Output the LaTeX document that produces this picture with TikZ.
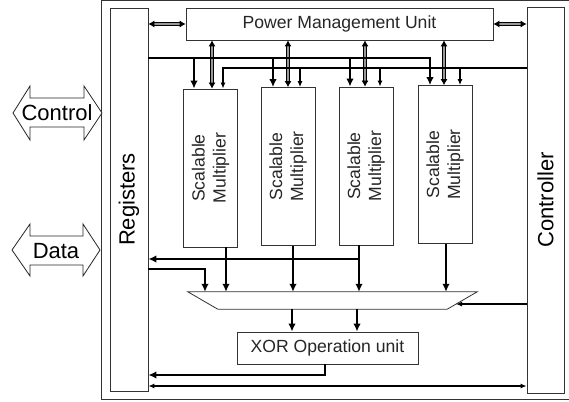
\documentclass[tikz,border=0pt]{standalone}
\usepackage{fontspec}
\setmainfont{Liberation Sans}
\usetikzlibrary{arrows.meta,calc}
\begin{document}
\begin{tikzpicture}[x=1pt,y=-1pt,
  box/.style={draw=black!80, line width=0.8pt, inner sep=0pt},
  fs/.style={font=\fontsize{17.6}{21}\selectfont, text=black!85},
  big/.style={font=\fontsize{22}{24}\selectfont, text=black},
  thk/.style={line width=2.6pt, -{Latex[length=8pt,width=7.5pt]}},
  thn/.style={line width=1.2pt, -{Latex[length=6pt,width=5pt]}},
  thnd/.style={line width=1.2pt, {Latex[length=6pt,width=5pt]}-{Latex[length=6pt,width=5pt]}},
  dbl/.style={line width=0.8pt, double=black!40, double distance=1.8pt, {Latex[length=6pt,width=7pt]}-{Latex[length=6pt,width=7pt]}},
  bigarrow/.style={draw=black!85, line width=0.8pt, fill=white},
  mult/.style={box, minimum width=54pt, minimum height=158pt}
]
\clip (0,0) rectangle (569,401);
\fill[white] (0,0) rectangle (569,401);

% outer frame
\draw[line width=1pt, black!80] (580,1) -- (101,1) -- (101,399) -- (580,399);

% main blocks
\node[box, minimum width=38pt, minimum height=383pt] (reg) at (129,199.5) {};
\node[big, rotate=90] (regt) at (reg.center) {Registers};
\node[box, minimum width=37pt, minimum height=386pt] (ctrl) at (545.5,200) {};
\node[big, rotate=90] (ctrlt) at (ctrl.center) {Controller};
\node[box, minimum width=307pt, minimum height=32pt] (pmu) at (339.5,24) {};
\node[fs] (pmut) at (pmu.center) {Power Management Unit};

\node[mult] (m1) at (210.5,168) {};
\node[mult] (m2) at (288,166.5) {};
\node[mult] (m3) at (366,166) {};
\node[mult] (m4) at (445,164.5) {};
\foreach \m in {m1,m2,m3,m4}{
  \node[fs, rotate=90, align=center] (\m t) at (\m.center) {Scalable\\Multiplier};
}

\node[box, minimum width=181pt, minimum height=32pt] (xor) at (327.5,348) {};
\node[fs] (xort) at (xor.center) {XOR Operation unit};

% multiplexer (trapezoid)
\node[inner sep=0pt, minimum width=289pt, minimum height=17pt] (mux) at (332.5,300.5) {};
\draw[box] (mux.north west) -- (mux.north east) -- ([xshift=-30pt]mux.south east)
  -- ([xshift=30pt]mux.south west) -- cycle;
\coordinate (muxr) at ($(mux.north east)!12/17!([xshift=-30pt]mux.south east)$);

% level coordinates
\coordinate (busA) at (0,58);
\coordinate (busB) at (0,68);
\coordinate (br) at (0,259);
\coordinate (rin) at (205,269);
\coordinate (xo) at (0,375);
\coordinate (bl) at (0,386);

% PMU double arrows
\draw[dbl] (reg.east |- pmu.west) -- (pmu.west);
\draw[dbl] (pmu.east) -- (ctrl.west |- pmu.east);
\draw[dbl] ([xshift=1.5pt]m1.north |- pmu.south) -- ([xshift=1.5pt]m1.north);
\draw[dbl] ([xshift=0pt]m2.north |- pmu.south) -- ([xshift=0pt]m2.north);
\draw[dbl] ([xshift=-1pt]m3.north |- pmu.south) -- ([xshift=-1pt]m3.north);
\draw[dbl] ([xshift=-1pt]m4.north |- pmu.south) -- ([xshift=-1pt]m4.north);

% thick bus from registers
\draw[thk] (reg.east |- busA) -- ([xshift=-15pt]m4.north |- busA) -- ([xshift=-15pt]m4.north);
\draw[thk] ([xshift=-16.5pt]m1.north |- busA) -- ([xshift=-16.5pt]m1.north);
\draw[thk] ([xshift=-15pt]m2.north |- busA) -- ([xshift=-15pt]m2.north);
\draw[thk] ([xshift=-16pt]m3.north |- busA) -- ([xshift=-16pt]m3.north);

% thin bus from controller
\draw[thn] (ctrl.west |- busB) -- ([xshift=12.5pt]m1.north |- busB) -- ([xshift=12.5pt]m1.north);
\draw[thn] ([xshift=12pt]m2.north |- busB) -- ([xshift=12pt]m2.north);
\draw[thn] ([xshift=14pt]m3.north |- busB) -- ([xshift=14pt]m3.north);
\draw[thn] ([xshift=15pt]m4.north |- busB) -- ([xshift=15pt]m4.north);

% multiplier outputs to mux
\draw[thk] ([xshift=15.5pt]m1.south) -- ([xshift=15.5pt]m1.south |- mux.north);
\draw[thk] ([xshift=5pt]m2.south) -- ([xshift=5pt]m2.south |- mux.north);
\draw[thk] ([xshift=-7pt]m3.south) -- ([xshift=-7pt]m3.south |- mux.north);
\draw[thk] ([xshift=1pt]m4.south) -- ([xshift=1pt]m4.south |- mux.north);
\draw[thk] ([xshift=-7pt]m3.south |- br) -- (reg.east |- br);
\draw[thk] (reg.east |- rin) -- (rin) -- (rin |- mux.north);
\draw[thn] (ctrl.west |- muxr) -- (muxr);

% mux to XOR
\draw[thk] ([xshift=-35.5pt]xor.north |- mux.south) -- ([xshift=-35.5pt]xor.north);
\draw[thk] ([xshift=29.5pt]xor.north |- mux.south) -- ([xshift=29.5pt]xor.north);

% XOR output and bottom line
\draw[thk] ([xshift=-2.5pt]xor.south) -- ([xshift=-2.5pt]xor.south |- xo) -- (reg.east |- xo);
\draw[thnd] (reg.east |- bl) -- (ctrl.west |- bl);

% external Control / Data arrows
\draw[bigarrow] (13,113) -- (30,86) -- (30,98) -- (84,98) -- (84,86) -- (102,113)
  -- (84,140) -- (84,127) -- (30,127) -- (30,140) -- cycle;
\node[big] (control) at (57,113) {Control};
\draw[bigarrow] (12,250) -- (30,224) -- (30,236) -- (83,236) -- (83,224) -- (100,250)
  -- (83,276) -- (83,265) -- (30,265) -- (30,276) -- cycle;
\node[big] (data) at (56,251) {Data};
\end{tikzpicture}
\end{document}
